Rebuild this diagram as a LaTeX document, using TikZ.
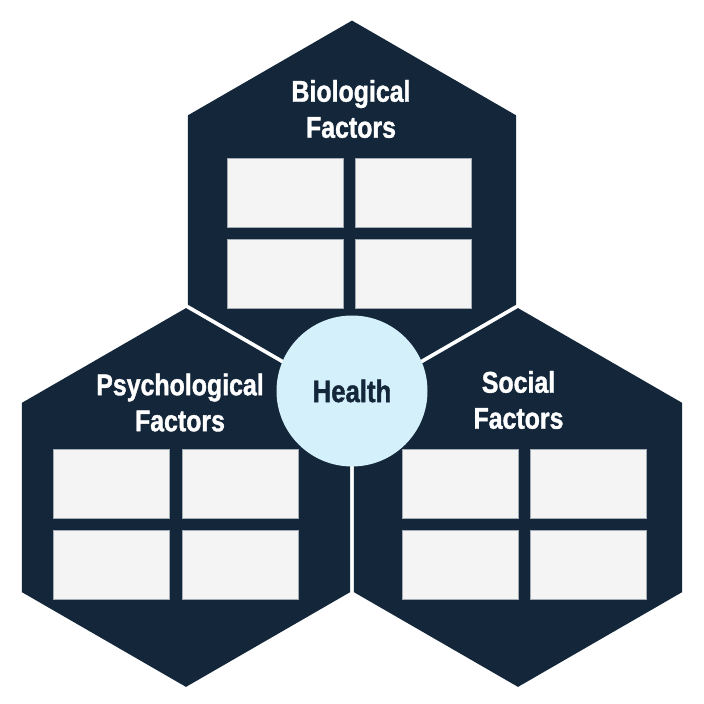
\documentclass[tikz,border=0pt]{standalone}
\usepackage{fontspec}
\newfontfamily\condfont{Liberation Sans}[FakeStretch=0.83, BoldFeatures={FakeBold=1.2}]

\definecolor{navy}{HTML}{13263A}
\definecolor{healthblue}{HTML}{D4F0FB}
\definecolor{cellgray}{HTML}{F4F4F4}
\definecolor{celledge}{HTML}{A3ACB4}

% circumradius of one hexagon (pt)
\newcommand{\hexr}{189.4}

\tikzset{
  hexfill/.style={fill=navy},
  cell/.style={draw=celledge, line width=0.6pt, fill=cellgray,
    minimum width=116pt, minimum height=69pt, inner sep=0pt},
  factor/.style={text=white, align=center,
    font=\condfont\bfseries\fontsize{30}{36}\selectfont},
  hub/.style={circle, fill=healthblue, minimum size=151pt, inner sep=0pt,
    text=navy, font=\condfont\bfseries\fontsize{31}{36}\selectfont}
}

\begin{document}
\begin{tikzpicture}[x=1pt,y=1pt]
    \useasboundingbox (0,0) rectangle (704,704);

    %%%%%%%%%%%%%%%%%%%%%%%%%%%%%%%%%%%%%%%%%%%%%%
    % Three hexagons, 4pt apart
    %%%%%%%%%%%%%%%%%%%%%%%%%%%%%%%%%%%%%%%%%%%%%%
    \coordinate (bio) at (352,494);
    \coordinate (psy) at (186,206.5);
    \coordinate (soc) at (518,206.5);

    \fill[hexfill] (bio) +(30:\hexr) -- +(90:\hexr) -- +(150:\hexr)
      -- +(210:\hexr) -- +(270:\hexr) -- +(330:\hexr) -- cycle;
    \fill[hexfill] (psy) +(30:\hexr) -- +(90:\hexr) -- +(150:\hexr)
      -- +(210:\hexr) -- +(270:\hexr) -- +(330:\hexr) -- cycle;
    \fill[hexfill] (soc) +(30:\hexr) -- +(90:\hexr) -- +(150:\hexr)
      -- +(210:\hexr) -- +(270:\hexr) -- +(330:\hexr) -- cycle;

    %%%%%%%%%%%%%%%%%%%%%%%%%%%%%%%%%%%%%%%%%%%%%%
    % Top: Biological
    %%%%%%%%%%%%%%%%%%%%%%%%%%%%%%%%%%%%%%%%%%%%%%
    \node[factor] (biotitle) at (351,595) {Biological\\Factors};
    \node[cell] (bio1) at (285,511.5) {};
    \node[cell] (bio2) at (413.5,511.5) {};
    \node[cell] (bio3) at (285,430.5) {};
    \node[cell] (bio4) at (413.5,430.5) {};

    %%%%%%%%%%%%%%%%%%%%%%%%%%%%%%%%%%%%%%%%%%%%%%
    % Left: Psychological
    %%%%%%%%%%%%%%%%%%%%%%%%%%%%%%%%%%%%%%%%%%%%%%
    \node[factor] (psytitle) at (180,301.5) {Psychological\\Factors};
    \node[cell] (psy1) at (111.5,220.5) {};
    \node[cell] (psy2) at (240,220.5) {};
    \node[cell] (psy3) at (111.5,139.5) {};
    \node[cell] (psy4) at (240,139.5) {};

    %%%%%%%%%%%%%%%%%%%%%%%%%%%%%%%%%%%%%%%%%%%%%%
    % Right: Social
    %%%%%%%%%%%%%%%%%%%%%%%%%%%%%%%%%%%%%%%%%%%%%%
    \node[factor] (soctitle) at (518.5,304) {Social\\Factors};
    \node[cell] (soc1) at (460,220.5) {};
    \node[cell] (soc2) at (588,220.5) {};
    \node[cell] (soc3) at (460,139.5) {};
    \node[cell] (soc4) at (588,139.5) {};

    % Centre circle
    \node[hub] (health) at (352,313) {Health};
\end{tikzpicture}
\end{document}
